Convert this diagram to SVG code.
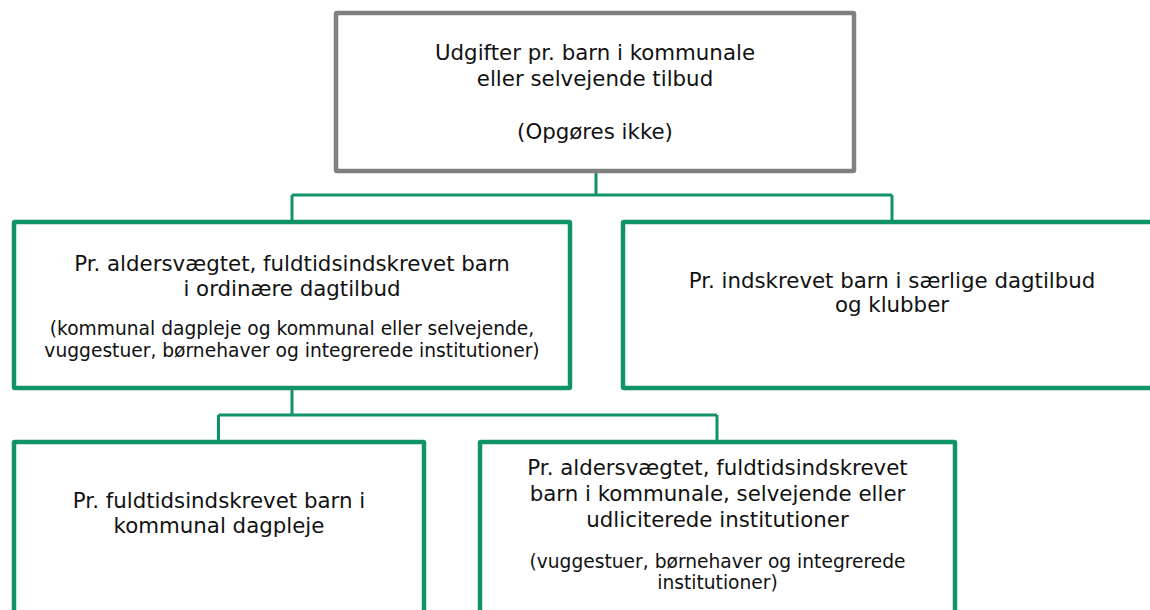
<svg xmlns="http://www.w3.org/2000/svg" width="1150" height="610" viewBox="0 0 1150 610">
<style>
.box{fill:#fff;stroke:#109368;stroke-width:4.5}
.gray{fill:#fff;stroke:#808080;stroke-width:4.5}
.conn{fill:none;stroke:#109368;stroke-width:3}
text{font-family:"DejaVu Sans",Verdana,sans-serif;fill:#111;text-anchor:middle}
.m{font-size:21.33px}
.s{font-size:18.67px}
</style>
<rect width="1150" height="610" fill="#fff"/>
<g id="connectors">
<path class="conn" d="M596 173V195M292 195H892M292 195V220M892 195V220"/>
<path class="conn" d="M292 390V415M218.5 415H717M218.5 415V440M717 415V440"/>
</g>
<g id="top">
<rect class="gray" x="336" y="13" width="518" height="158" rx="1"/>
<text class="m" x="595" y="60">Udgifter pr. barn i kommunale</text>
<text class="m" x="595" y="86">eller selvejende tilbud</text>
<text class="m" x="595" y="139">(Opgøres ikke)</text>
</g>
<g id="ordinaere">
<rect class="box" x="14" y="222" width="556" height="166" rx="1"/>
<text class="m" x="292" y="271">Pr. aldersvægtet, fuldtidsindskrevet barn</text>
<text class="m" x="292" y="296">i ordinære dagtilbud</text>
<text class="s" x="292" y="335">(kommunal dagpleje og kommunal eller selvejende,</text>
<text class="s" x="292" y="357">vuggestuer, børnehaver og integrerede institutioner)</text>
</g>
<g id="saerlige">
<rect class="box" x="623" y="222" width="538" height="166" rx="1"/>
<text class="m" x="892" y="288">Pr. indskrevet barn i særlige dagtilbud</text>
<text class="m" x="892" y="312">og klubber</text>
</g>
<g id="dagpleje">
<rect class="box" x="14" y="442" width="410" height="200" rx="1"/>
<text class="m" x="219" y="508">Pr. fuldtidsindskrevet barn i</text>
<text class="m" x="219" y="533">kommunal dagpleje</text>
</g>
<g id="institutioner">
<rect class="box" x="480" y="442" width="475" height="200" rx="1"/>
<text class="m" x="717.5" y="475">Pr. aldersvægtet, fuldtidsindskrevet</text>
<text class="m" x="717.5" y="501">barn i kommunale, selvejende eller</text>
<text class="m" x="717.5" y="527">udliciterede institutioner</text>
<text class="s" x="717.5" y="568">(vuggestuer, børnehaver og integrerede</text>
<text class="s" x="717.5" y="589">institutioner)</text>
</g>
</svg>
